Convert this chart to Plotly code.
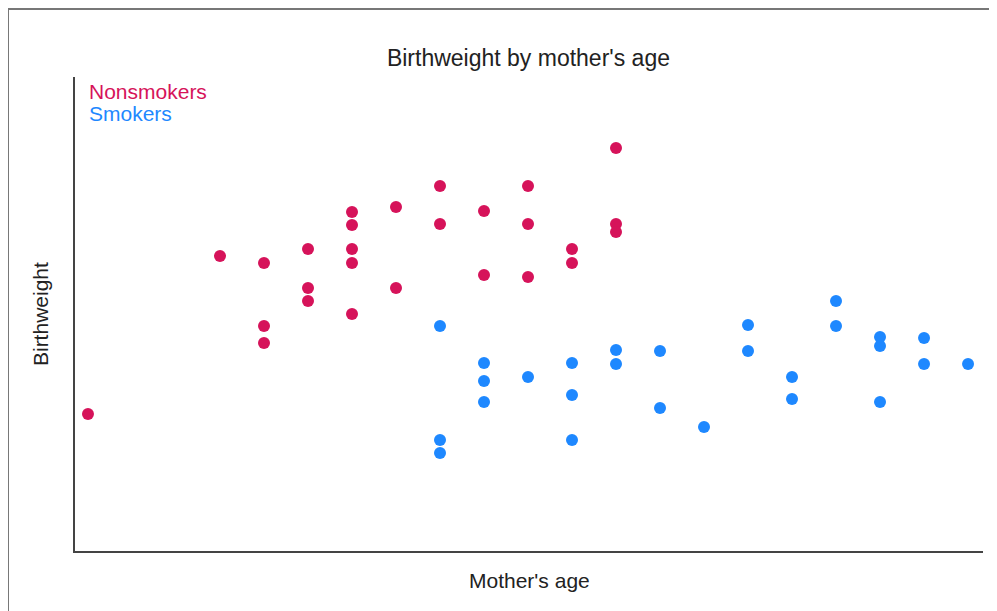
import plotly.graph_objects as go

# Nonsmokers: mother's age and birthweight (g)
nonsmoker_age = [15, 18, 19, 19, 19, 20, 20, 20, 21, 21, 21, 21, 21, 22, 22,
                 23, 23, 24, 24, 25, 25, 25, 26, 26, 27, 27, 27]
nonsmoker_weight = [2185, 2975, 2940, 2625, 2540, 3010, 2815, 2750, 3195, 3130,
                    3010, 2940, 2685, 3220, 2815, 3325, 3135, 3200, 2880, 3325,
                    3135, 2870, 3010, 2940, 3515, 3135, 3095]

# Smokers
smoker_age = [23, 23, 23, 24, 24, 24, 25, 26, 26, 26, 27, 27, 28, 28, 29, 30,
              30, 31, 31, 32, 32, 33, 33, 33, 34, 34, 35]
smoker_weight = [2625, 2055, 1990, 2440, 2350, 2245, 2370, 2440, 2280, 2055,
                 2505, 2435, 2500, 2215, 2120, 2630, 2500, 2370, 2260, 2750,
                 2625, 2570, 2525, 2245, 2565, 2435, 2435]

RED = "#d6135a"
BLUE = "#1e88ff"
FONT = "Liberation Sans, Arial, sans-serif"

fig = go.Figure()
fig.add_trace(go.Scatter(x=nonsmoker_age, y=nonsmoker_weight, mode="markers",
                         name="Nonsmokers", marker=dict(color=RED, size=12)))
fig.add_trace(go.Scatter(x=smoker_age, y=smoker_weight, mode="markers",
                         name="Smokers", marker=dict(color=BLUE, size=12)))

fig.update_layout(
    width=997, height=611,
    margin=dict(l=67, r=22, t=69, b=68),
    paper_bgcolor="white", plot_bgcolor="white",
    showlegend=False,
    font=dict(family=FONT, color="#222"),
    title=dict(text="Birthweight by mother's age", x=0.522, xanchor="center",
               y=0.918, yanchor="middle", font=dict(size=23, color="#222")),
    xaxis=dict(range=[14.705, 35.34], showgrid=False, zeroline=False,
               showticklabels=False, ticks="", showline=True,
               linecolor="#444", linewidth=2),
    yaxis=dict(range=[1500, 3870], showgrid=False, zeroline=False,
               showticklabels=False, ticks="", showline=True,
               linecolor="#444", linewidth=2),
    shapes=[dict(type="rect", xref="paper", yref="paper",
                 x0=-0.0738, x1=1.2, y0=-0.3, y1=1.1435,
                 line=dict(color="#777", width=2), layer="below")],
    annotations=[
        dict(text="Nonsmokers", xref="paper", yref="paper", x=0.0132, y=0.970,
             xanchor="left", yanchor="middle", showarrow=False,
             font=dict(size=21, color=RED)),
        dict(text="Smokers", xref="paper", yref="paper", x=0.0132, y=0.924,
             xanchor="left", yanchor="middle", showarrow=False,
             font=dict(size=21, color=BLUE)),
        dict(text="Mother's age", xref="paper", yref="paper", x=0.5, y=-0.0612,
             xanchor="center", yanchor="middle", showarrow=False,
             font=dict(size=21, color="#222")),
        dict(text="Birthweight", xref="paper", yref="paper", x=-0.0385, y=0.5,
             xanchor="center", yanchor="middle", showarrow=False, textangle=-90,
             font=dict(size=21, color="#222")),
    ],
)

fig.write_html("out.html")
